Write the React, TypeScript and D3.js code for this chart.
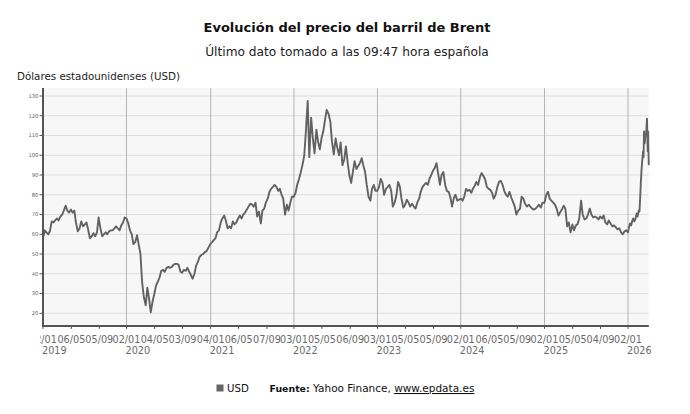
import React, { useRef, useEffect } from 'react';
import * as d3 from 'd3';

// Brent, USD por barril. ~48 lecturas por año (semanales aprox.)
const brent2019 = [58, 62, 61, 60, 61.5, 66.5, 66, 67, 68, 67, 69, 70, 72, 74.5, 72, 71, 72.5, 71, 72, 66, 61.5, 63, 66.5, 64, 65, 66, 62, 58, 59, 60.5, 59, 61, 68.5, 63, 59, 60, 61, 60, 61.5, 62, 62, 63, 64, 63, 62, 64.5, 66, 68.5];
const brent2020 = [68, 65.5, 62, 60, 55, 56, 59.5, 55, 50, 36, 28, 24, 33, 27, 20.5, 26, 30, 34, 36, 38, 41.5, 42, 41, 43, 43.5, 43, 43.5, 44.5, 45, 45, 44.5, 41, 40.5, 42, 41.5, 43, 41, 39.5, 37.5, 40, 44, 46, 48.5, 49.5, 50, 51, 51.5, 53];
const brent2021 = [55, 56, 57, 58, 61, 62, 66, 68, 69.5, 67, 63, 64, 63, 66.5, 65, 66, 68, 69.5, 68, 70, 71, 72.5, 74, 75.5, 75, 74, 76, 69, 71.5, 65.5, 72, 73, 76, 78, 81.5, 83, 84, 85, 84, 82, 83, 80, 78, 70, 75, 72, 76, 79];
const brent2022 = [79, 81, 85, 88, 91, 95, 100, 112, 127.5, 99, 119, 108, 101, 113, 107, 103, 109, 112, 118, 123, 121, 117, 107, 100.5, 108.5, 104, 100, 106.5, 95, 98, 104.5, 96, 90, 86, 92, 97, 93, 94.5, 96, 98.5, 95, 91.5, 85, 79, 77, 83, 85, 82];
const brent2023 = [82, 84, 88, 86, 80, 83, 84, 85, 82, 74, 76, 80, 86.5, 84, 78, 73.5, 75, 77.5, 76, 74, 75.5, 74, 73, 76, 78, 81.5, 84, 85, 86, 85, 88, 90, 92, 93.5, 96, 91, 85, 90, 91.5, 85, 82, 81.5, 79, 74, 78.5, 80, 77, 77.5];
const brent2024 = [78, 77, 79, 83, 82, 82.5, 81, 83, 84.5, 86.5, 85, 89, 91, 89.5, 88, 84, 83, 82.5, 81, 78, 80, 84, 86.5, 87, 85, 82, 80, 79, 81.5, 78.5, 76.5, 74, 70, 72, 73, 79, 78, 75.5, 74, 75, 74, 73, 72.5, 73, 74, 75, 73.5, 76];
const brent2025 = [76, 80, 81.5, 78, 77, 76, 75, 73, 69.5, 71, 72.5, 74.5, 73, 64, 66, 61, 65, 62, 64.5, 65, 68, 77, 70, 67.5, 68, 70, 73, 70, 68.5, 69, 68.5, 67.5, 69, 68, 69.5, 66, 65, 67, 65.5, 64, 64.5, 63.5, 62.5, 63, 61, 60, 61.5, 62];
const brent2026Dates = ['2026-01-02', '2026-01-07', '2026-01-11', '2026-01-16', '2026-01-21', '2026-01-25', '2026-01-30', '2026-02-04', '2026-02-09', '2026-02-13', '2026-02-18', '2026-02-21', '2026-02-24', '2026-02-27', '2026-03-02', '2026-03-05', '2026-03-09', '2026-03-11', '2026-03-13', '2026-03-16', '2026-03-19', '2026-03-22', '2026-03-24', '2026-03-26', '2026-03-28', '2026-03-29', '2026-03-31', '2026-04-01', '2026-04-03'];
const brent2026 = [61, 64, 65.5, 64.5, 67, 68, 66.5, 68, 70.5, 69, 72, 71.5, 78, 86, 92.5, 97, 102, 99, 112, 106, 110, 111, 114, 118.5, 108, 102, 112, 104, 95];

const yTicks = [20, 30, 40, 50, 60, 70, 80, 90, 100, 110, 120, 130];
const xTickDates = ['2019-01-02', '2019-05-06', '2019-09-05', '2020-01-02', '2020-05-04', '2020-09-03', '2021-01-04', '2021-05-06', '2021-09-07', '2022-01-03', '2022-05-05', '2022-09-06', '2023-01-03', '2023-05-05', '2023-09-05', '2024-01-02', '2024-05-06', '2024-09-05', '2025-01-02', '2025-05-05', '2025-09-04', '2026-01-02'];
const xTickLabels = ['02/01', '06/05', '05/09', '02/01', '04/05', '03/09', '04/01', '06/05', '07/09', '03/01', '05/05', '06/09', '03/01', '05/05', '05/09', '02/01', '06/05', '05/09', '02/01', '05/05', '04/09', '02/01'];
const xTickYears = ['2019', '', '', '2020', '', '', '2021', '', '', '2022', '', '', '2023', '', '', '2024', '', '', '2025', '', '', '2026'];

const weeklyYears: [number, number[]][] = [
  [2019, brent2019], [2020, brent2020], [2021, brent2021], [2022, brent2022],
  [2023, brent2023], [2024, brent2024], [2025, brent2025],
];

const parse = d3.timeParse('%Y-%m-%d');

const series = [
  ...weeklyYears.flatMap(([year, vals]) =>
    vals.map((v, k) => ({ date: new Date(year, 0, 2 + Math.round((k * 365) / vals.length)), value: v }))),
  ...brent2026.map((v, i) => ({ date: parse(brent2026Dates[i])!, value: v })),
];

const FONT = "'DejaVu Sans', sans-serif";

const BrentChart: React.FC = () => {
  const svgRef = useRef<SVGSVGElement>(null);

  useEffect(() => {
    if (!svgRef.current) return;
    const svg = d3.select(svgRef.current);
    svg.selectAll('*').remove();

    const x = d3.scaleTime().domain([parse('2019-01-02')!, parse('2026-01-02')!]).range([43, 628]);
    const y = d3.scaleLinear().domain([20, 130]).range([313.3, 96]);

    const left = 43;
    const right = x(series[series.length - 1].date);
    const top = y(134);
    const bottom = y(13.6);

    // Titles
    svg.append('text').attr('x', 347).attr('y', 32).attr('text-anchor', 'middle')
      .attr('font-family', FONT).attr('font-weight', 'bold').attr('font-size', 13).attr('fill', '#111')
      .text('Evolución del precio del barril de Brent');
    svg.append('text').attr('x', 347).attr('y', 56).attr('text-anchor', 'middle')
      .attr('font-family', FONT).attr('font-size', 12.2).attr('fill', '#222')
      .text('Último dato tomado a las 09:47 hora española');
    svg.append('text').attr('x', 17).attr('y', 80)
      .attr('font-family', FONT).attr('font-size', 10.3).attr('fill', '#222')
      .text('Dólares estadounidenses (USD)');

    // Plot background
    svg.append('rect').attr('x', left).attr('y', top).attr('width', right - left).attr('height', bottom - top)
      .attr('fill', '#f7f7f7');

    // Horizontal grid
    svg.append('g').selectAll('line').data(yTicks).enter().append('line')
      .attr('x1', left).attr('x2', right).attr('y1', (d) => y(d)).attr('y2', (d) => y(d))
      .attr('stroke', '#dedede').attr('stroke-width', 1);

    // Vertical grid on year ticks
    const yearTicks = xTickDates.filter((_, i) => xTickYears[i] !== '');
    svg.append('g').selectAll('line').data(yearTicks).enter().append('line')
      .attr('x1', (d) => x(parse(d)!)).attr('x2', (d) => x(parse(d)!))
      .attr('y1', top).attr('y2', bottom)
      .attr('stroke', '#b4b4b4').attr('stroke-width', 1);

    // Line
    const line = d3.line<{ date: Date; value: number }>()
      .x((d) => x(d.date)).y((d) => y(d.value));
    svg.append('path').datum(series).attr('d', line)
      .attr('fill', 'none').attr('stroke', '#626262').attr('stroke-width', 1.9)
      .attr('stroke-linejoin', 'round');

    // Left axis
    svg.append('line').attr('x1', left).attr('x2', left).attr('y1', top).attr('y2', bottom + 1)
      .attr('stroke', '#555').attr('stroke-width', 2);
    const yAxis = svg.append('g');
    yAxis.selectAll('line').data(yTicks).enter().append('line')
      .attr('x1', 39.5).attr('x2', left).attr('y1', (d) => y(d)).attr('y2', (d) => y(d))
      .attr('stroke', '#555').attr('stroke-width', 1);
    yAxis.selectAll('text').data(yTicks).enter().append('text')
      .attr('x', 38.5).attr('y', (d) => y(d) + 1.8).attr('text-anchor', 'end')
      .attr('font-family', FONT).attr('font-size', 5.3).attr('fill', '#666')
      .text((d) => d);

    // Bottom axis
    svg.append('line').attr('x1', left - 1).attr('x2', right).attr('y1', bottom).attr('y2', bottom)
      .attr('stroke', '#555').attr('stroke-width', 2);
    const clip = svg.append('clipPath').attr('id', 'xlab-clip');
    clip.append('rect').attr('x', 40).attr('y', 320).attr('width', 650).attr('height', 50);
    const xAxis = svg.append('g').attr('clip-path', 'url(#xlab-clip)');
    xTickDates.forEach((d, i) => {
      const px = x(parse(d)!);
      xAxis.append('line').attr('x1', px).attr('x2', px).attr('y1', bottom).attr('y2', bottom + 3)
        .attr('stroke', '#555').attr('stroke-width', 1);
      xAxis.append('text').attr('x', px).attr('y', 343).attr('text-anchor', 'middle')
        .attr('font-family', FONT).attr('font-size', 9.7).attr('fill', '#6a6a6a')
        .text(xTickLabels[i]);
      if (xTickYears[i]) {
        xAxis.append('text').attr('x', px - 1).attr('y', 353.5)
          .attr('font-family', FONT).attr('font-size', 9.7).attr('fill', '#6a6a6a')
          .text(xTickYears[i]);
      }
    });

    // Legend + source
    const legendY = 392;
    svg.append('rect').attr('x', 216.5).attr('y', legendY - 7.5).attr('width', 7).attr('height', 7).attr('fill', '#666');
    svg.append('text').attr('x', 227).attr('y', legendY)
      .attr('font-family', FONT).attr('font-size', 10.2).attr('fill', '#111').text('USD');
    const src = svg.append('text').attr('x', 269.5).attr('y', legendY)
      .attr('font-family', FONT).attr('fill', '#111');
    src.append('tspan').attr('font-weight', 'bold').attr('font-size', 9.4).text('Fuente:');
    src.append('tspan').attr('font-size', 10.5).text(' Yahoo Finance, ');
    src.append('tspan').attr('font-size', 10.5).style('text-decoration', 'underline').text('www.epdata.es');
  }, []);

  return (
    <svg ref={svgRef} width={690} height={414}
      style={{ position: 'absolute', left: 0, top: 0, background: '#fff' }} />
  );
};

export default function App() {
  return <BrentChart />;
}
